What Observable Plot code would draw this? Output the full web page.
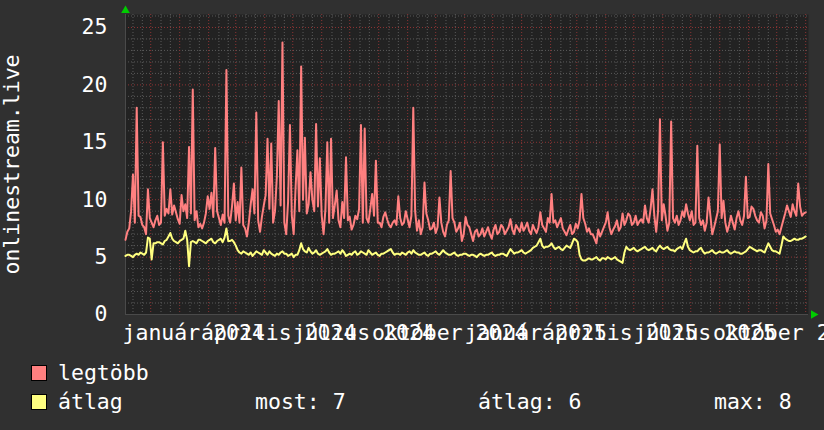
<!DOCTYPE html>
<html>
<head>
<meta charset="utf-8">
<script src="https://cdn.jsdelivr.net/npm/d3@7"></script>
<script src="https://cdn.jsdelivr.net/npm/@observablehq/plot@0.6"></script>
<style>
  html, body { margin: 0; padding: 0; background: #303030; }
  #wrap { position: relative; width: 824px; height: 430px; background: #303030; overflow: hidden;
          font-family: "DejaVu Sans Mono", monospace; font-size: 21.5px; color: #ffffff; }
  .lg { position: absolute; line-height: 24px; white-space: pre; }
  .sw { position: absolute; width: 14px; height: 14px; border: 1px solid #000; }
</style>
</head>
<body>
<div id="wrap"></div>
<script>
// ---- data ----
const startDate = Date.UTC(2023, 10, 4);   // first sample
const stepDays = 2;                        // sample spacing
const domainStart = new Date(Date.UTC(2023, 10, 4));
const domainEnd = new Date(Date.UTC(2025, 10, 4));

const legtobb = [
  6.5,7.2, 7.5,9.0, 12.2,8.0, 18.0,8.6, 8.5,7.8, 7.6,7.0, 10.9,8.4, 8.0,7.6, 8.2,8.6, 7.8,8.0,
  15.0,8.6, 9.2,8.8, 10.9,8.7, 9.5,8.9, 8.3,7.9, 10.4,9.0, 9.6,8.4, 14.6,8.8, 19.6,8.2, 9.0,7.6,
  7.9,7.5, 8.0,8.8, 10.3,9.2, 10.6,8.5, 14.5,9.0, 8.4,7.8, 8.7,8.0, 21.3,8.6, 8.0,9.4, 11.4,8.2,
  9.8,8.0, 12.8,7.8, 7.5,6.8, 8.0,9.6, 10.9,8.8, 17.6,8.2, 7.2,8.5, 9.5,10.4, 15.3,9.2, 14.9,8.0,
  9.0,12.0, 18.6,9.5, 23.7,8.0, 7.0,9.8, 16.5,8.6, 7.0,11.0, 14.3,9.0, 21.6,10.0, 15.4,8.8, 9.6,12.4,
  10.0,9.0, 16.6,9.4, 13.6,8.6, 7.0,9.2, 15.0,8.0, 15.3,8.4, 9.5,10.8, 8.2,7.6, 9.8,8.4, 13.7,8.2,
  8.5,7.4, 7.8,8.6, 8.3,9.2, 16.5,8.0, 16.2,8.4, 8.0,9.2, 10.5,8.6, 13.4,8.0, 8.0,7.6, 8.5,8.9,
  8.3,7.8, 7.6,8.0, 8.2,7.8, 10.3,8.4, 7.8,8.0, 9.0,8.3, 7.6,8.6, 18.0,9.0, 7.3,8.2, 7.0,7.6,
  11.5,8.8, 8.2,7.4, 7.5,8.0, 7.1,7.6, 10.2,8.0, 7.2,6.8, 7.8,8.2, 12.5,8.4, 8.0,7.2, 7.5,8.0,
  6.4,7.0, 8.5,7.8, 7.6,7.0, 6.4,7.2, 7.4,6.8, 7.0,7.5, 6.8,7.2, 7.6,7.0, 6.6,7.4, 7.8,7.0,
  7.2,7.8, 7.6,7.0, 7.3,7.6, 8.3,7.4, 7.0,7.8, 7.5,7.2, 8.0,7.3, 7.6,8.0, 7.3,7.0, 7.8,7.4,
  7.1,7.6, 8.9,7.8, 7.5,7.2, 8.4,8.0, 10.5,8.0, 8.2,7.6, 8.0,8.4, 7.5,7.2, 6.9,7.4, 7.8,7.0,
  7.2,7.9, 7.5,8.2, 10.5,8.4, 7.9,7.2, 7.5,7.0, 7.0,6.6, 6.2,7.4, 6.8,7.2, 7.6,8.0, 8.9,7.6,
  7.0,7.4, 7.7,8.2, 7.3,7.6, 8.8,7.8, 8.2,8.8, 8.6,7.8, 8.0,8.6, 7.8,8.1, 8.3,8.0, 9.5,8.4,
  8.0,9.2, 10.9,8.6, 7.2,9.0, 17.0,8.2, 9.6,8.6, 7.3,8.0, 16.8,8.4, 8.0,8.6, 7.8,8.2, 9.0,8.5,
  9.6,8.8, 8.2,9.0, 7.8,8.0, 14.7,8.4, 7.8,8.2, 7.3,8.0, 10.2,8.6, 7.0,7.6, 8.3,9.0, 14.8,8.4,
  9.9,8.0, 7.2,7.8, 8.6,8.0, 7.4,8.4, 9.0,8.2, 7.8,8.6, 12.0,8.4, 8.5,9.4, 9.2,8.6, 8.2,8.0,
  8.9,8.6, 7.5,8.2, 13.1,8.8, 8.3,7.8, 7.2,7.4, 7.0,7.6, 8.2,8.8, 9.5,9.0, 8.5,9.6, 9.0,8.6,
  11.4,9.4, 8.6,8.8, 8.9
];
const atlag = [
  5.1,5.2, 5.2,5.1, 5.0,5.2, 5.3,5.2, 5.4,5.3, 5.2,5.4, 6.7,6.6, 4.8,6.2, 6.2,6.3, 6.3,6.2,
  6.1,6.4, 6.5,6.8, 7.1,6.6, 6.4,6.3, 6.2,6.4, 6.5,6.6, 7.3,6.5, 4.2,6.3, 6.4,6.3, 6.2,6.5,
  6.5,6.4, 6.3,6.2, 6.4,6.5, 6.6,6.3, 6.2,6.4, 6.5,6.6, 6.3,6.7, 7.5,6.4, 6.4,6.5, 6.3,6.0,
  5.6,5.4, 5.3,5.5, 5.4,5.3, 5.2,5.4, 5.1,5.3, 5.5,5.4, 5.3,5.2, 5.6,5.4, 5.2,5.5, 5.3,5.2,
  5.1,5.3, 5.2,5.4, 5.5,5.3, 5.3,5.1, 5.2,5.3, 5.0,5.2, 5.2,5.6, 6.2,5.7, 5.5,5.4, 5.8,5.5,
  5.3,5.4, 5.6,5.3, 5.2,5.3, 5.4,5.5, 5.7,5.4, 5.2,5.3, 5.3,5.4, 5.5,5.3, 5.6,5.4, 5.1,5.2,
  5.3,5.2, 5.4,5.5, 5.2,5.3, 5.5,5.4, 5.3,5.2, 5.6,5.4, 5.2,5.3, 5.4,5.2, 5.1,5.3, 5.3,5.4,
  5.5,5.6, 5.7,5.4, 5.2,5.3, 5.3,5.2, 5.4,5.3, 5.2,5.4, 5.5,5.3, 5.6,5.4, 5.3,5.2, 5.2,5.3,
  5.4,5.2, 5.1,5.3, 5.3,5.4, 5.5,5.3, 5.2,5.4, 5.6,5.4, 5.3,5.2, 5.2,5.3, 5.4,5.2, 5.1,5.2,
  5.2,5.3, 5.3,5.2, 5.1,5.2, 5.2,5.1, 5.0,5.2, 5.3,5.2, 5.1,5.2, 5.2,5.3, 5.4,5.2, 5.1,5.2,
  5.2,5.3, 5.3,5.2, 5.1,5.4, 5.7,5.5, 5.3,5.4, 5.4,5.5, 5.6,5.4, 5.3,5.4, 5.5,5.6, 5.8,5.9,
  6.0,6.3, 6.6,6.0, 5.8,5.9, 5.9,6.0, 6.2,5.9, 5.7,5.8, 5.9,5.7, 5.6,5.8, 6.0,5.9, 5.8,6.2,
  6.6,6.5, 6.3,5.2, 4.8,4.7, 4.7,4.8, 4.9,4.8, 4.8,4.9, 5.0,4.8, 4.7,4.9, 4.9,4.8, 5.0,4.9,
  4.8,4.9, 5.0,4.8, 4.7,4.6, 4.5,5.4, 5.9,5.7, 5.6,5.7, 5.8,5.6, 5.5,5.6, 5.7,5.8, 5.9,5.7,
  5.6,5.7, 5.8,5.6, 5.5,5.8, 6.0,5.8, 5.7,5.8, 5.9,5.7, 5.6,5.6, 5.5,5.7, 5.8,5.9, 5.7,6.2,
  6.6,5.9, 5.6,5.5, 5.4,5.5, 5.5,5.7, 5.8,5.5, 5.3,5.4, 5.4,5.5, 5.6,5.4, 5.3,5.4, 5.5,5.4,
  5.4,5.5, 5.6,5.4, 5.3,5.4, 5.5,5.4, 5.4,5.3, 5.3,5.4, 5.5,5.7, 5.9,5.8, 5.7,5.6, 5.5,5.6,
  5.6,5.5, 5.4,5.8, 6.2,5.9, 5.6,5.5, 5.5,5.4, 5.3,6.0, 6.8,6.6, 6.5,6.4, 6.4,6.5, 6.6,6.5,
  6.5,6.6, 6.6,6.7, 6.8
];

const tickLabels = ["január 2024", "április 2024", "július 2024", "október 2024",
                    "január 2025", "április 2025", "július 2025", "október 2025"];
const tickDates = ["2024-01-16", "2024-04-16", "2024-07-16", "2024-10-16",
                   "2025-01-16", "2025-04-16", "2025-07-16", "2025-10-16"];
const yTicks = [0, 5, 10, 15, 20, 25];
const yLabel = "onlinestream.live";
const seriesNames = ["legtöbb", "átlag"];
const seriesColors = ["#ff8080", "#ffff80"];
const stats = ["most: 7", "átlag: 6", "max: 8"];

// ---- build ----
const dates = legtobb.map((_, i) => new Date(startDate + i * stepDays * 864e5));
const rowsMax = legtobb.map((v, i) => ({date: dates[i], value: v}));
const rowsAvg = atlag.map((v, i) => ({date: new Date(startDate + i * stepDays * 864e5), value: v}));

const monthLines = d3.utcMonth.range(domainStart, domainEnd);
const minorLines = d3.utcMonth.range(new Date(Date.UTC(2023, 9, 1)), domainEnd)
  .flatMap(m => [d3.utcDay.offset(m, 11), d3.utcDay.offset(m, 21)])
  .filter(d => d > domainStart && d < domainEnd);
const yMinor = d3.range(1, 27).filter(v => v % 5 !== 0);
const yMajor = [5, 10, 15, 20, 25];
const yTop = 26.13;

const chart = Plot.plot({
  width: 824,
  height: 345,
  marginLeft: 125,
  marginRight: 16,
  marginTop: 14,
  marginBottom: 31,
  style: {background: "#303030", color: "#ffffff", fontFamily: "DejaVu Sans Mono, monospace", fontSize: "21.5px"},
  x: {type: "utc", domain: [domainStart, domainEnd]},
  y: {domain: [0, yTop]},
  marks: [
    Plot.frame({fill: "#222222", stroke: null}),
    Plot.ruleX(minorLines, {stroke: "#5a5a5a", strokeDasharray: "1,2"}),
    Plot.ruleY(yMinor, {stroke: "#5a5a5a", strokeDasharray: "1,2"}),
    Plot.ruleX(monthLines, {stroke: "#8c3434", strokeDasharray: "1,2"}),
    Plot.ruleY(yMajor, {stroke: "#8c3434", strokeDasharray: "1,2"}),
    Plot.ruleY([0], {stroke: "#4a4a4a"}),
    Plot.ruleX([domainStart], {stroke: "#4a4a4a"}),
    Plot.lineY(rowsMax, {x: "date", y: "value", stroke: seriesColors[0], strokeWidth: 2}),
    Plot.lineY(rowsAvg, {x: "date", y: "value", stroke: seriesColors[1], strokeWidth: 2}),
    Plot.dot([0], {x: () => domainStart, y: () => yTop, symbol: "triangle", fill: "#00cc00", r: 3.2, dy: -4}),
    Plot.dot([0], {x: () => domainEnd, y: () => 0, symbol: "triangle", fill: "#00cc00", r: 3.2, rotate: 90, dx: 5}),
    Plot.axisY({ticks: yTicks, tickSize: 0, tickPadding: 18, label: null, fill: "#ffffff", tickFormat: d => String(d)}),
    Plot.axisX({ticks: tickDates.map(d => new Date(d + "T00:00:00Z")), tickSize: 0, tickPadding: 10, label: null,
                fill: "#ffffff", tickFormat: (d, i) => tickLabels[i]}),
    Plot.text([yLabel], {frameAnchor: "left", textAnchor: "middle", rotate: -90, dx: -113, fill: "#ffffff", fontSize: 21.5})
  ]
});

const wrap = document.getElementById("wrap");
wrap.appendChild(chart);

function addDiv(cls, left, top, text, bg) {
  const d = document.createElement("div");
  d.className = cls;
  d.style.left = left + "px";
  d.style.top = top + "px";
  if (text) d.textContent = text;
  if (bg) d.style.background = bg;
  wrap.appendChild(d);
}
addDiv("sw", 31, 365, null, seriesColors[0]);
addDiv("lg", 58, 361, seriesNames[0]);
addDiv("sw", 31, 394, null, seriesColors[1]);
addDiv("lg", 58, 390, seriesNames[1]);
addDiv("lg", 255, 390, stats[0]);
addDiv("lg", 478, 390, stats[1]);
addDiv("lg", 714, 390, stats[2]);
</script>
</body>
</html>
